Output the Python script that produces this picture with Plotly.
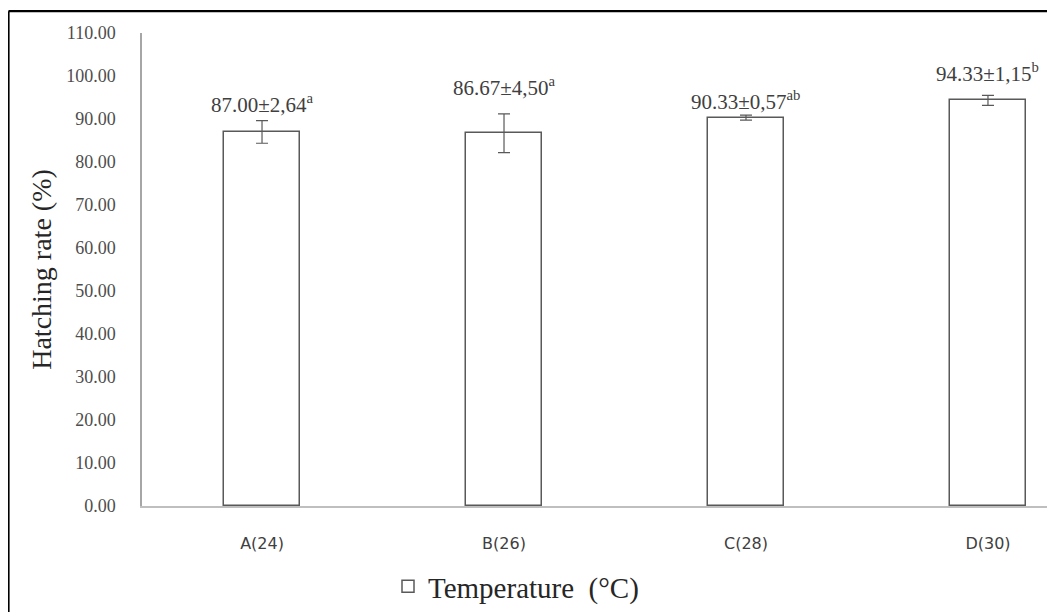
import plotly.graph_objects as go

categories = ["A(24)", "B(26)", "C(28)", "D(30)"]
hatching_rate = [87.00, 86.67, 90.33, 94.33]
std_dev = [2.64, 4.50, 0.57, 1.15]
err_text = ["2,64", "4,50", "0,57", "1,15"]
letters = ["a", "a", "ab", "b"]
y_ticks = [0, 10, 20, 30, 40, 50, 60, 70, 80, 90, 100, 110]

# label placement offsets above the error bar (style, not data)
label_offset = [4.0, 6.4, 3.3, 5.4]

# page body has an 8px margin; work in screen pixels and convert
OFF = 8
W, H = 1055 - OFF, 612 - OFF
L, R, T, B = 142 - OFF, 0, 33 - OFF, H - (509 - OFF)
pw, ph = W - L - R, H - T - B

def sx(p):  # screen px -> paper x
    return (p - OFF - L) / pw

def sy(p):  # screen px -> paper y
    return (H - B - (p - OFF)) / ph

fig = go.Figure()
fig.add_trace(go.Bar(
    x=categories, y=hatching_rate,
    name="Temperature\u00a0\u00a0(°C)",
    marker=dict(color="white", line=dict(color="#595959", width=1.5)),
    width=0.316,
    error_y=dict(type="data", array=std_dev, visible=True,
                 color="#595959", thickness=1.2, width=6),
    showlegend=True,
))

for i, c in enumerate(categories):
    fig.add_annotation(
        x=c, y=hatching_rate[i] + std_dev[i] + label_offset[i],
        text=f"{hatching_rate[i]:.2f}±{err_text[i]}<sup>{letters[i]}</sup>",
        showarrow=False, xref="x", yref="y",
        font=dict(family="Liberation Serif", size=21, color="#404040"),
    )

# outer black frame (left and top edges visible)
fig.add_shape(type="line", xref="paper", yref="paper",
              x0=sx(8.5), x1=sx(1060), y0=sy(11), y1=sy(11),
              line=dict(color="black", width=2.2))
fig.add_shape(type="line", xref="paper", yref="paper",
              x0=sx(8.5), x1=sx(8.5), y0=sy(11), y1=sy(620),
              line=dict(color="black", width=2.2))

fig.update_layout(
    width=W, height=H,
    margin=dict(l=L, r=R, t=T, b=B, pad=0),
    paper_bgcolor="white", plot_bgcolor="white",
    bargap=0,
    xaxis=dict(
        range=[-0.496, 3.277],
        showline=True, linecolor="#bfbfbf", linewidth=2,
        showgrid=False, ticks="", zeroline=False,
        tickfont=dict(family="DejaVu Sans", size=16, color="#404040"),
        ticklabelstandoff=22,
    ),
    yaxis=dict(
        range=[0, 110],
        tickvals=y_ticks, tickformat=".2f",
        showline=True, linecolor="#a6a6a6", linewidth=1.5,
        showgrid=False, zeroline=False, ticks="",
        tickfont=dict(family="Liberation Serif", size=18, color="#4d4d4d"),
        ticklabelstandoff=21,
        title=dict(text="Hatching rate (%)",
                   font=dict(family="Liberation Serif", size=28, color="#262626"),
                   standoff=6),
    ),
    legend=dict(
        orientation="h", x=sx(388), xanchor="left",
        y=sy(590), yanchor="middle",
        font=dict(family="Liberation Serif", size=29, color="#262626"),
        itemwidth=30,
    ),
)

fig.write_html("out.html")
